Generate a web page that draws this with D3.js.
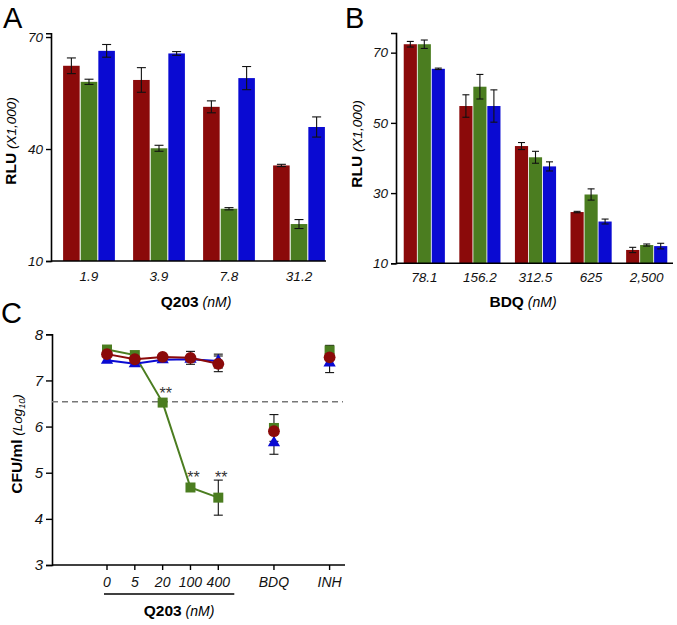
<!DOCTYPE html>
<html>
<head>
<meta charset="utf-8">
<script src="https://cdn.jsdelivr.net/npm/d3@7"></script>
<style>
  body { margin: 0; background: #fff; }
  svg { font-family: "Liberation Sans", Arial, sans-serif; }
</style>
</head>
<body>
<svg id="fig"></svg>
<script>
// Dimensions
const width = 677;
const height = 625;

const colors = ["#8b0a0a", "#4b7d20", "#0a0ad2"];
const seriesKeys = ["red", "green", "blue"];

// Panel A data: Q203 (nM)
const q203Conc = ["1.9", "3.9", "7.8", "31.2"];
const aRed = [62.3, 58.5, 51.3, 35.6];
const aGreen = [58.0, 40.2, 24.0, 19.9];
const aBlue = [66.3, 65.6, 59.0, 45.9];
const aRedErr = [2.1, 3.3, 1.6, 0.3];
const aGreenErr = [0.7, 0.8, 0.3, 1.2];
const aBlueErr = [1.7, 0.5, 3.1, 2.7];
const aTicks = [10, 40, 70];

// Panel B data: BDQ (nM)
const bdqConc = ["78.1", "156.2", "312.5", "625", "2,500"];
const bRed = [72.4, 54.8, 43.4, 24.6, 13.8];
const bGreen = [72.4, 60.3, 40.2, 29.6, 15.2];
const bBlue = [65.4, 54.8, 37.6, 21.9, 14.9];
const bRedErr = [0.8, 3.2, 1.0, 0.2, 0.75];
const bGreenErr = [1.2, 3.5, 1.7, 1.6, 0.3];
const bBlueErr = [0.2, 4.6, 1.3, 0.7, 0.8];
const bTicks = [10, 30, 50, 70];

// Panel C data: CFU/ml (Log10)
const cCats = ["0", "5", "20", "100", "400", "BDQ", "INH"];
const cPos = [0, 1, 2, 3, 4, 6, 8];
const cGreen = [7.67, 7.55, 6.52, 4.68, 4.46, 5.97, 7.65];
const cRed = [7.57, 7.46, 7.51, 7.49, 7.36, 5.9, 7.5];
const cBlue = [7.44, 7.36, 7.45, 7.46, 7.42, 5.65, 7.38];
const cGreenErr = [0, 0, 0, 0, 0.38, 0.29, 0.11];
const cRedErr = [0, 0, 0, 0.14, 0.17, 0, 0];
const cBlueErr = [0, 0, 0, 0, 0.15, 0.25, 0.21];
const cStars = [null, null, "**", "**", "**", null, null];
const cThreshold = 6.54;
const cTicks = [3, 4, 5, 6, 7, 8];

const svg = d3.select("#fig")
    .attr("width", width)
    .attr("height", height);

function panelLetter(x, y, t) {
    svg.append("text")
        .attr("x", x).attr("y", y)
        .attr("font-size", 29)
        .text(t);
}

function rotLabel(x, y, bold, italic, sub, after) {
    const t = svg.append("text")
        .attr("transform", `translate(${x},${y}) rotate(-90)`)
        .attr("text-anchor", "middle");
    t.append("tspan").attr("font-weight", "bold").attr("font-size", 15.5).text(bold);
    t.append("tspan").attr("font-style", "italic").attr("font-size", 13.5).text(" " + italic);
    if (sub) {
        t.append("tspan").attr("font-style", "italic").attr("font-size", 9).attr("dy", 3).text(sub);
        t.append("tspan").attr("font-style", "italic").attr("font-size", 13.5).attr("dy", -3).text(after);
    }
}

function xTitle(x, y, bold, italic) {
    const t = svg.append("text")
        .attr("x", x).attr("y", y)
        .attr("text-anchor", "middle");
    t.append("tspan").attr("font-weight", "bold").attr("font-size", 15.5).text(bold);
    t.append("tspan").attr("font-style", "italic").attr("font-size", 14).text(" " + italic);
}

function barPanel(opt) {
    const x = d3.scaleBand()
        .domain(opt.cats)
        .range(opt.xRange)
        .paddingInner(0.26)
        .paddingOuter(0.13);

    const xs = d3.scaleBand()
        .domain(seriesKeys)
        .range([0, x.bandwidth()])
        .paddingInner(0.06);

    const y = d3.scaleLinear()
        .domain(opt.yDomain)
        .range(opt.yRange);

    const rows = opt.cats.map((c, i) => ({
        cat: c,
        vals: seriesKeys.map((k, j) => ({
            key: k,
            color: colors[j],
            v: opt.vals[j][i],
            e: opt.errs[j][i]
        }))
    }));

    const g = svg.append("g");

    const grp = g.selectAll("g.grp")
        .data(rows)
        .join("g")
        .attr("class", "grp")
        .attr("transform", d => `translate(${x(d.cat)},0)`);

    grp.selectAll("rect")
        .data(d => d.vals)
        .join("rect")
        .attr("x", d => xs(d.key))
        .attr("y", d => y(d.v))
        .attr("width", xs.bandwidth())
        .attr("height", d => y(opt.yDomain[0]) - y(d.v))
        .attr("fill", d => d.color);

    const eb = grp.selectAll("g.err")
        .data(d => d.vals)
        .join("g")
        .attr("class", "err")
        .attr("stroke", "#111")
        .attr("stroke-width", 1.1);

    const cx = d => xs(d.key) + xs.bandwidth() / 2;
    eb.append("line")
        .attr("x1", cx).attr("x2", cx)
        .attr("y1", d => y(d.v + d.e)).attr("y2", d => y(d.v - d.e));
    eb.append("line")
        .attr("x1", d => cx(d) - opt.cap).attr("x2", d => cx(d) + opt.cap)
        .attr("y1", d => y(d.v + d.e)).attr("y2", d => y(d.v + d.e));
    eb.append("line")
        .attr("x1", d => cx(d) - opt.cap).attr("x2", d => cx(d) + opt.cap)
        .attr("y1", d => y(d.v - d.e)).attr("y2", d => y(d.v - d.e));

    // Axes
    const ya = svg.append("g")
        .attr("transform", `translate(${opt.axisX},0)`)
        .call(d3.axisLeft(y).tickValues(opt.ticks).tickSize(5).tickPadding(3));
    ya.select(".domain").attr("stroke-width", 1.6);
    ya.selectAll(".tick line").attr("stroke-width", 1.4);
    ya.selectAll("text")
        .attr("font-size", 13.5)
        .attr("font-style", "italic")
        .attr("font-family", "'Liberation Sans', Arial, sans-serif")
        .attr("fill", "#111");

    svg.append("line")
        .attr("x1", opt.axisX).attr("x2", opt.axisEnd)
        .attr("y1", y(opt.yDomain[0])).attr("y2", y(opt.yDomain[0]))
        .attr("stroke", "#000").attr("stroke-width", 1.6);

    svg.append("g")
        .selectAll("text")
        .data(opt.cats)
        .join("text")
        .attr("x", d => x(d) + x.bandwidth() / 2)
        .attr("y", opt.labelY)
        .attr("text-anchor", "middle")
        .attr("font-size", 13.5)
        .attr("font-style", "italic")
        .attr("fill", "#111")
        .text(d => d);
}

// Panel A
panelLetter(3, 28, "A");
barPanel({
    cats: q203Conc,
    vals: [aRed, aGreen, aBlue],
    errs: [aRedErr, aGreenErr, aBlueErr],
    xRange: [54, 334],
    yDomain: [10, 71],
    yRange: [261, 33.3],
    ticks: aTicks,
    axisX: 51,
    axisEnd: 326,
    labelY: 281,
    cap: 4.5
});
rotLabel(16, 141, "RLU", "(X1,000)");
xTitle(196, 307, "Q203", "(nM)");

// Panel B
panelLetter(345, 28, "B");
barPanel({
    cats: bdqConc,
    vals: [bRed, bGreen, bBlue],
    errs: [bRedErr, bGreenErr, bBlueErr],
    xRange: [396.5, 674.5],
    yDomain: [10, 75.6],
    yRange: [263.3, 33],
    ticks: bTicks,
    axisX: 396,
    axisEnd: 673,
    labelY: 282,
    cap: 3.5
});
rotLabel(362, 144, "RLU", "(X1,000)");
xTitle(523, 307, "BDQ", "(nM)");

// Panel C
panelLetter(1, 323, "C");

const xc = d3.scaleLinear()
    .domain([0, 8])
    .range([107, 329.6]);

const yc = d3.scaleLinear()
    .domain([3, 8])
    .range([565, 334.3]);

const ycAxis = svg.append("g")
    .attr("transform", "translate(52,0)")
    .call(d3.axisLeft(yc).tickValues(cTicks).tickFormat(d3.format("d")).tickSize(6).tickPadding(3));
ycAxis.select(".domain").attr("stroke-width", 1.6);
ycAxis.selectAll(".tick line").attr("stroke-width", 1.4);
ycAxis.selectAll("text")
    .attr("font-size", 15)
    .attr("font-style", "italic")
    .attr("font-family", "'Liberation Sans', Arial, sans-serif")
    .attr("fill", "#111");

svg.append("line")
    .attr("x1", 52).attr("x2", 345)
    .attr("y1", yc(3)).attr("y2", yc(3))
    .attr("stroke", "#000").attr("stroke-width", 1.6);

svg.append("g")
    .selectAll("line")
    .data(cPos)
    .join("line")
    .attr("x1", d => xc(d)).attr("x2", d => xc(d))
    .attr("y1", yc(3)).attr("y2", yc(3) + 5)
    .attr("stroke", "#000").attr("stroke-width", 1.4);

svg.append("g")
    .selectAll("text")
    .data(cCats)
    .join("text")
    .attr("x", (d, i) => xc(cPos[i]))
    .attr("y", 587)
    .attr("text-anchor", "middle")
    .attr("font-size", 14)
    .attr("font-style", "italic")
    .attr("fill", "#111")
    .text(d => d);

// Q203 bracket line
svg.append("line")
    .attr("x1", xc(0) - 3).attr("x2", xc(4) + 16)
    .attr("y1", 594).attr("y2", 594)
    .attr("stroke", "#000").attr("stroke-width", 1.3);
xTitle(179, 616, "Q203", "(nM)");
rotLabel(22, 444, "CFU/ml", "(Log", "10", ")");

// Threshold
svg.append("line")
    .attr("x1", 52).attr("x2", 343)
    .attr("y1", yc(cThreshold)).attr("y2", yc(cThreshold))
    .attr("stroke", "#777")
    .attr("stroke-width", 1.5)
    .attr("stroke-dasharray", "6,4");

const cSeries = [
    { key: "green", color: colors[1], vals: cGreen, errs: cGreenErr, sym: d3.symbolSquare, size: 100 },
    { key: "blue", color: colors[2], vals: cBlue, errs: cBlueErr, sym: d3.symbolTriangle, size: 65 },
    { key: "red", color: colors[0], vals: cRed, errs: cRedErr, sym: d3.symbolCircle, size: 110 }
];

const lineC = d3.line()
    .x(d => xc(d.p))
    .y(d => yc(d.v));

// error bars first
cSeries.forEach(s => {
    const pts = s.vals.map((v, i) => ({ p: cPos[i], v: v, e: s.errs[i] })).filter(d => d.e > 0);
    const g = svg.append("g").attr("stroke", "#111").attr("stroke-width", 1.1);
    pts.forEach(d => {
        g.append("line").attr("x1", xc(d.p)).attr("x2", xc(d.p))
            .attr("y1", yc(d.v + d.e)).attr("y2", yc(d.v - d.e));
        g.append("line").attr("x1", xc(d.p) - 4.5).attr("x2", xc(d.p) + 4.5)
            .attr("y1", yc(d.v + d.e)).attr("y2", yc(d.v + d.e));
        g.append("line").attr("x1", xc(d.p) - 4.5).attr("x2", xc(d.p) + 4.5)
            .attr("y1", yc(d.v - d.e)).attr("y2", yc(d.v - d.e));
    });
});

cSeries.forEach(s => {
    const pts = s.vals.map((v, i) => ({ p: cPos[i], v: v }));
    svg.append("path")
        .datum(pts.slice(0, 5))
        .attr("fill", "none")
        .attr("stroke", s.color)
        .attr("stroke-width", 2)
        .attr("d", lineC);

    svg.append("g")
        .selectAll("path")
        .data(pts)
        .join("path")
        .attr("transform", d => `translate(${xc(d.p)},${yc(d.v)})`)
        .attr("d", d3.symbol().type(s.sym).size(s.size))
        .attr("fill", s.color);
});

// significance stars: the 20 nM star sits above its point,
// the 100 and 400 nM stars share one row above the highest error bar
const lowTop = d3.max([3, 4], i => cGreen[i] + cGreenErr[i]);
svg.append("g")
    .selectAll("text")
    .data(cStars.map((t, i) => ({ t: t, p: cPos[i], v: cGreen[i] })).filter(d => d.t))
    .join("text")
    .attr("x", d => xc(d.p) + 3)
    .attr("y", d => d.p === 2 ? yc(d.v) - 4 : yc(lowTop) + 3)
    .attr("text-anchor", "middle")
    .attr("font-size", 16)
    .attr("fill", "#333")
    .text(d => d.t);
</script>
</body>
</html>
